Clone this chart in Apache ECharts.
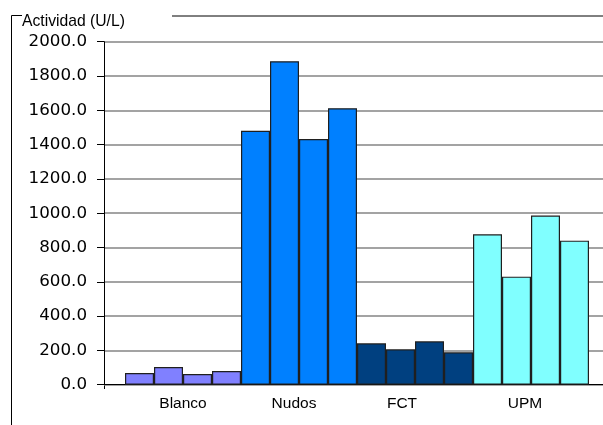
<!DOCTYPE html>
<html>
<head>
<meta charset="utf-8">
<script src="https://cdn.jsdelivr.net/npm/echarts@6/dist/echarts.min.js"></script>
<style>
  html, body { margin: 0; padding: 0; background: #fff; }
  #chart { width: 603px; height: 425px; }
</style>
</head>
<body>
<div id="chart"></div>
<script>
// Sample groups and four replicate measurements per group (U/L)
const categories = ['Blanco', 'Nudos', 'FCT', 'UPM'];
const groupColors = ['#8080FF', '#0080FF', '#004080', '#80FFFF'];
const replicate1 = [68, 1481, 241, 877];
const replicate2 = [103, 1886, 206, 630];
const replicate3 = [62, 1433, 253, 986];
const replicate4 = [80, 1612, 189, 840];
const replicates = [replicate1, replicate2, replicate3, replicate4];
const yTicks = { min: 0, max: 2000, interval: 200 };
const titleText = 'Actividad (U/L)';
// horizontal shift of each category label (px, negative = left)
const labelShift = [0, -5, -13, -6];

const chart = echarts.init(document.getElementById('chart'), null, { renderer: 'canvas' });

const plotTop = 41.7;
const plotHeight = 343;

const series = replicates.map((vals, i) => ({
  type: 'bar',
  xAxisIndex: 1,
  yAxisIndex: 1,
  barGap: '0%',
  barCategoryGap: '0%',
  z: 3,
  data: vals.map((v, c) => ({
    value: v,
    itemStyle: { color: groupColors[c], borderColor: '#1f1f1f', borderWidth: 1.2 }
  }))
}));

const rich = {};
categories.forEach((c, i) => {
  const s = labelShift[i];
  rich['c' + i] = {
    fontFamily: 'Liberation Sans, Arial, sans-serif',
    fontSize: 15.5,
    color: '#000',
    padding: s < 0 ? [0, -2 * s, 0, 0] : [0, 0, 0, 2 * s]
  };
});

chart.setOption({
  animation: false,
  backgroundColor: '#fff',
  title: {
    text: titleText,
    left: 22,
    top: 14,
    padding: 0,
    textStyle: { fontFamily: 'Liberation Sans, Arial, sans-serif', fontSize: 15.7, fontWeight: 'normal', color: '#000' }
  },
  grid: [
    { left: 104, right: 0, top: plotTop, height: plotHeight },
    { left: 125, width: 464, top: plotTop, height: plotHeight }
  ],
  xAxis: [
    {
      gridIndex: 0, type: 'value', min: 0, max: 1,
      axisLine: { show: true, onZero: false, lineStyle: { color: '#000', width: 1 } },
      axisTick: { show: false }, axisLabel: { show: false }, splitLine: { show: false }
    },
    {
      gridIndex: 1, type: 'category', data: categories,
      axisLine: { show: false }, axisTick: { show: false },
      axisLabel: {
        margin: 11,
        formatter: (v, idx) => '{c' + idx + '|' + v + '}',
        rich: rich
      }
    }
  ],
  yAxis: [
    {
      gridIndex: 0, type: 'value', min: yTicks.min, max: yTicks.max, interval: yTicks.interval,
      axisLine: { show: true, lineStyle: { color: '#000', width: 1 } },
      axisTick: { show: true, length: 7, lineStyle: { color: '#000' } },
      axisLabel: {
        margin: 17,
        formatter: v => v.toFixed(1),
        fontFamily: 'DejaVu Sans, Verdana, sans-serif',
        fontSize: 16.7,
        color: '#000'
      },
      splitLine: { show: true, lineStyle: { color: '#858585', width: 1.5 } }
    },
    {
      gridIndex: 1, type: 'value', min: yTicks.min, max: yTicks.max, interval: yTicks.interval,
      show: false, splitLine: { show: false }
    }
  ],
  graphic: [
    {
      type: 'polyline',
      shape: { points: [[22, 15.5], [11.5, 15.5], [11.5, 425]] },
      style: { stroke: '#000', lineWidth: 1, fill: null }
    },
    {
      type: 'line',
      shape: { x1: 172, y1: 16, x2: 603, y2: 16 },
      style: { stroke: '#000', lineWidth: 1 }
    },
    {
      type: 'line',
      shape: { x1: 104.5, y1: 384.7, x2: 104.5, y2: 389 },
      style: { stroke: '#000', lineWidth: 1 }
    }
  ],
  series: series
});
</script>
</body>
</html>
